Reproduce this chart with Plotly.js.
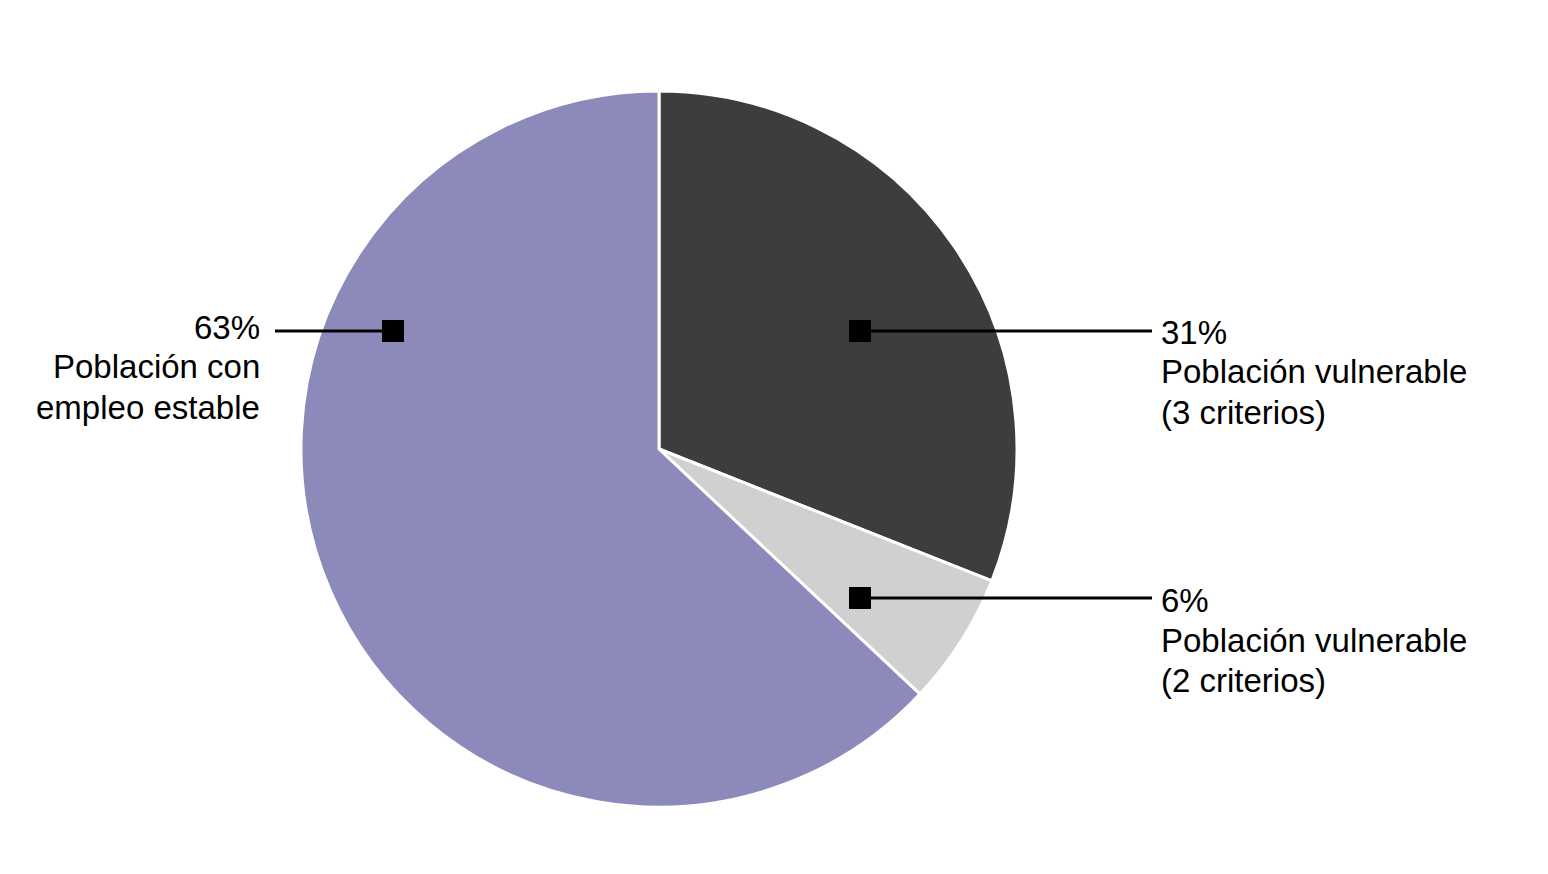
<!DOCTYPE html>
<html>
<head>
<meta charset="utf-8">
<script src="https://cdn.plot.ly/plotly-3.0.1.min.js"></script>
<style>
  html, body { margin: 0; padding: 0; background: #fff; }
  #chart { width: 1548px; height: 874px; }
</style>
</head>
<body>
<div id="chart"></div>
<script>
var categories = ['Población vulnerable (3 criterios)', 'Población vulnerable (2 criterios)', 'Población con empleo estable'];
var shares = [31, 6, 63];
var colors = ['#3d3d3d', '#d0d0d0', '#8b8aba'];

// label text, split per line
var labelLines = [
  ['31%', 'Población vulnerable', '(3 criterios)'],
  ['6%', 'Población vulnerable', '(2 criterios)'],
  ['63%', 'Población con', 'empleo estable']
];

var W = 1548, H = 874;
function px(x) { return x / W; }
function py(y) { return 1 - y / H; }

// callout geometry in pixels: square, line end, text anchor
var callouts = [
  { sq: [860, 331], lineTo: 1152, tx: 1159, ty: 332, side: 'left' },
  { sq: [860, 598], lineTo: 1152, tx: 1159, ty: 600, side: 'left' },
  { sq: [393, 331], lineTo: 275, tx: 262, ty: 327, side: 'right' }
];

var cx = 659, cy = 449, r = 358;

var data = [{
  type: 'pie',
  labels: categories,
  values: shares,
  sort: false,
  direction: 'clockwise',
  rotation: 0,
  textinfo: 'none',
  hoverinfo: 'label+percent',
  marker: { colors: colors, line: { color: '#ffffff', width: 3 } },
  domain: { x: [px(cx - r), px(cx + r)], y: [py(cy + r), py(cy - r)] }
}];

var shapes = [];
var annotations = [];
callouts.forEach(function (c, i) {
  shapes.push({
    type: 'line', xref: 'paper', yref: 'paper',
    x0: px(c.sq[0]), y0: py(c.sq[1]), x1: px(c.lineTo), y1: py(c.sq[1]),
    line: { color: '#000', width: 3 }
  });
  shapes.push({
    type: 'rect', xref: 'paper', yref: 'paper',
    x0: px(c.sq[0] - 11), x1: px(c.sq[0] + 11),
    y0: py(c.sq[1] + 11), y1: py(c.sq[1] - 11),
    fillcolor: '#000', line: { width: 0 }
  });
  labelLines[i].forEach(function (t, j) {
    annotations.push({
      xref: 'paper', yref: 'paper',
      x: px(c.tx), y: py(c.ty + j * 40),
      xanchor: c.side, yanchor: 'middle',
      align: c.side, text: t, showarrow: false,
      font: { family: 'Liberation Sans, Arial, sans-serif', size: 33, color: '#000' }
    });
  });
});

var layout = {
  width: W, height: H,
  margin: { l: 0, r: 0, t: 0, b: 0 },
  paper_bgcolor: '#fff',
  showlegend: false,
  shapes: shapes,
  annotations: annotations
};

Plotly.newPlot('chart', data, layout, { displayModeBar: false });
</script>
</body>
</html>
